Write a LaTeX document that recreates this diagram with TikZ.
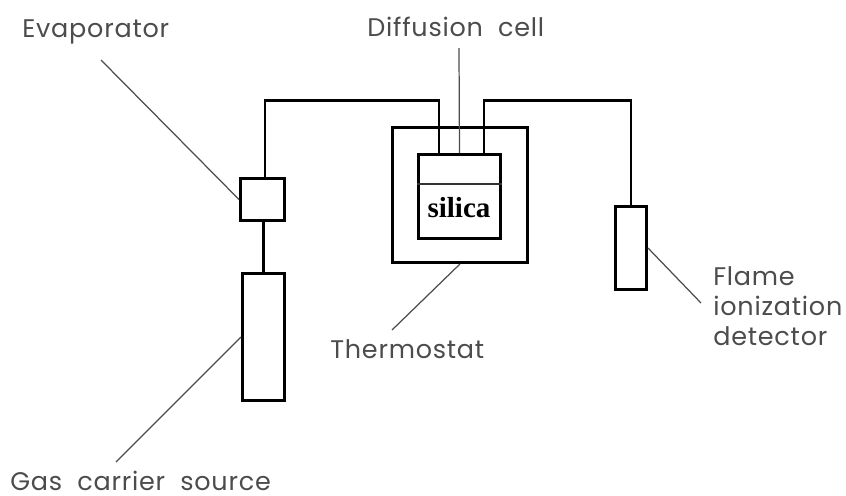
\documentclass[tikz,border=0pt]{standalone}
\usepackage{fontspec}
\newfontfamily\tagfont[LetterSpace=3,WordSpace=2]{Poppins}
\newfontfamily\silicafont{Liberation Serif}
\tikzset{
    unit/.style={draw, line width=1.7pt, inner sep=0pt, anchor=north west},
    tube/.style={line width=1.7pt},
    leader/.style={draw=black!70, line width=0.7pt},
    tag/.style={inner sep=0pt, anchor=west, font=\tagfont\fontsize{14.5}{17}\selectfont, text=black!70, align=left}
}
\begin{document}
\begin{tikzpicture}[x=0.02cm, y=-0.02cm]
\useasboundingbox (0,0) rectangle (846,495);

% --- Units ---
\node[unit, minimum width=135*0.02cm, minimum height=135*0.02cm] (thermostat) at (391,126) {};
\node[unit, minimum width=82*0.02cm, minimum height=84*0.02cm] (cell) at (417,153) {};
\node[unit, minimum width=44*0.02cm, minimum height=42*0.02cm] (evaporator) at (239,177) {};
\node[unit, minimum width=42*0.02cm, minimum height=127*0.02cm] (source) at (241,272) {};
\node[unit, minimum width=31*0.02cm, minimum height=83*0.02cm] (detector) at (614,205) {};

% --- Silica layer ---
\draw[black!80, line width=0.7pt] (cell.west |- 0,184) -- (cell.east |- 0,184);
\node[inner sep=0pt, font=\silicafont\bfseries\fontsize{16.5}{18}\selectfont] (silica) at (459,208) {silica};

% --- Tubes ---
\draw[tube] (evaporator.north -| 265,0) -- (265,100) -- (439,100) -- (cell.north -| 439,0);
\draw[tube] (detector.north) |- (484,100) -- (cell.north -| 484,0);
\draw[tube] (source.north) -- (source.north |- evaporator.south);

% --- Labels ---
\node[tag] (lblevap) at (22,32) {Evaporator};
\node[tag] (lbldiff) at (367,27) {Diffusion cell};
\node[tag] (lblthermo) at (330,349) {Thermostat};
\node[tag] (lblgas) at (10,481) {Gas carrier source};
\node[tag] (lblflame) at (713,306) {Flame\\ionization\\detector};

% --- Leaders ---
\coordinate (evapend) at (101,60);
\coordinate (diffend) at (459,48);
\coordinate (thermoend) at (392,330);
\coordinate (gasend) at (116,462);
\coordinate (flameend) at (701,303);
\draw[leader] (evapend) -- (evaporator.west);
\draw[leader] (diffend) -- (cell.north);
\draw[leader] (thermoend) -- (thermostat.south);
\draw[leader] (gasend) -- (source.west);
\draw[leader] (flameend) -- (detector.east);

\end{tikzpicture}
\end{document}
